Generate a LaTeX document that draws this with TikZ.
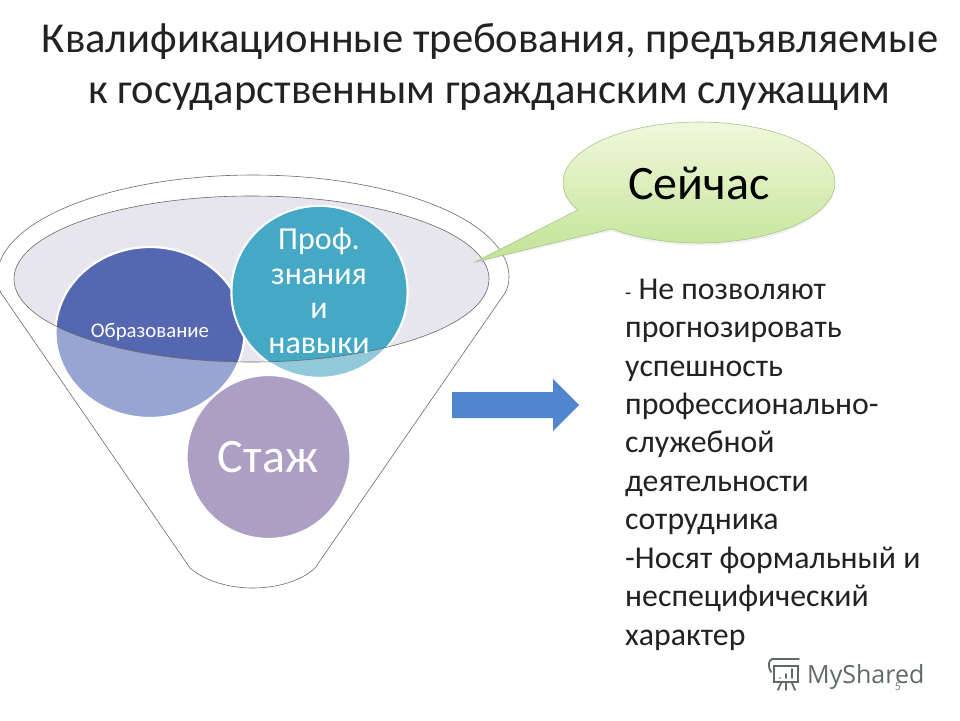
\documentclass[tikz,border=0pt]{standalone}
\usepackage{fontspec}
\setmainfont{Carlito}
\newfontfamily\logofont{Open Sans}
\definecolor{inkc}{HTML}{222222}
\definecolor{ringc}{HTML}{6A6A6A}
\definecolor{ellc}{HTML}{E7E5ED}
\definecolor{blueL}{HTML}{97A5D2}
\definecolor{blueD}{HTML}{5567B0}
\definecolor{tealL}{HTML}{92C9DA}
\definecolor{tealD}{HTML}{45A8C4}
\definecolor{plum}{HTML}{AD9FC3}
\definecolor{arrowc}{HTML}{4F86CF}
\definecolor{logoc}{HTML}{5F6A66}
\definecolor{calloutT}{HTML}{F0F8DC}
\definecolor{calloutB}{HTML}{C2E394}
\definecolor{calloutE}{HTML}{A9C68A}
\tikzset{
  titletext/.style={text=inkc,font=\fontsize{42.6}{42.6}\selectfont,inner sep=0pt,anchor=base},
  bodytext/.style={text=inkc,font=\fontsize{31.8}{31.8}\selectfont,inner sep=0pt,anchor=base west},
  ontext/.style={text=white,inner sep=0pt,anchor=center},
  thinline/.style={draw=ringc,line width=0.6pt},
}
\begin{document}
\begin{tikzpicture}[x=1pt,y=-1pt]
\useasboundingbox (0,0) rectangle (960,720);
\clip (0,0) rectangle (960,720);
\fill[white] (0,0) rectangle (960,720);
% title
\node[titletext] (t1) at (490,52) {Квалификационные требования, предъявляемые};
\node[titletext] (t2) at (489,103) {к государственным гражданским служащим};
% funnel
\draw[thinline,fill=white] plot[domain=180:360,samples=80] ({253+256*cos(\x)},{277+102*sin(\x)})
  .. controls (509,283) and (508,287) .. (505,293) -- (315,568)
  .. controls (300,582) and (275,588) .. (253,588)
  .. controls (231,588) and (206,582) .. (190,568) -- (1,293)
  .. controls (-2,287) and (-3,283) .. cycle;
\fill[ellc] (251.5,279) ellipse [x radius=237.5,y radius=83];
% education circle
\fill[blueL] (150,332.5) ellipse [x radius=94,y radius=85];
\begin{scope}
  \clip (251.5,279) ellipse [x radius=237.5,y radius=83];
  \fill[blueD] (150,332.5) ellipse [x radius=94,y radius=85];
\end{scope}
\draw[white,line width=2.2pt] (150,332.5) ellipse [x radius=94.5,y radius=85.5];
% experience circle
\draw[white,line width=2.2pt,fill=plum] (268.5,457) circle (82);
% knowledge circle
\draw[draw=white,line width=2.4pt,fill=tealL] (319.5,292) ellipse [x radius=88,y radius=86];
\begin{scope}
  \clip (251.5,279) ellipse [x radius=237.5,y radius=83];
  \fill[tealD] (319.5,292) ellipse [x radius=87,y radius=85];
\end{scope}
\draw[thinline] (251.5,279) ellipse [x radius=237.5,y radius=83];
% circle labels
\node[ontext,font=\fontsize{20.8}{20.8}\selectfont] (edu) at (150,332) {Образование};
\node[ontext,font=\fontsize{32}{32}\selectfont] (p1) at (319,241) {Проф.};
\node[ontext,font=\fontsize{32}{32}\selectfont] (p2) at (319,277) {знания};
\node[ontext,font=\fontsize{32}{32}\selectfont] (p3) at (319,311) {и};
\node[ontext,font=\fontsize{32}{32}\selectfont] (p4) at (319,346) {навыки};
\node[ontext,font=\fontsize{48}{48}\selectfont] (st) at (268,457) {Стаж};
% callout
\fill[black,opacity=0.06] plot[domain=153:490,samples=120] ({699+136*cos(\x)},{185+60.5*sin(\x)}) -- (477,263) -- cycle;
\draw[draw=calloutE,line width=0.6pt,top color=calloutT,bottom color=calloutB]
  plot[domain=153:490,samples=120] ({699+136*cos(\x)},{182.5+60.5*sin(\x)}) -- (475,262) -- cycle;
\node[inner sep=0pt,text=black,font=\fontsize{48}{48}\selectfont] (now) at (699,183) {Сейчас};
% arrow
\fill[arrowc] (452,392) -- (553,392) -- (553,379) -- (579,405) -- (553,431) -- (553,418) -- (452,418) -- cycle;
% body text
\node[bodytext] (b1) at (625,299) {{\fontsize{20}{20}\selectfont -} Не позволяют};
\node[bodytext] (b2) at (625,337) {прогнозировать};
\node[bodytext] (b3) at (625,376) {успешность};
\node[bodytext] (b4) at (625,414) {профессионально-};
\node[bodytext] (b5) at (625,452) {служебной};
\node[bodytext] (b6) at (625,491) {деятельности};
\node[bodytext] (b7) at (625,529) {сотрудника};
\node[bodytext] (b8) at (625,568) {-Носят формальный и};
\node[bodytext] (b9) at (625,606) {неспецифический};
\node[bodytext] (b10) at (625,645) {характер};
% watermark
\begin{scope}[draw=logoc,line width=1.8pt,line cap=round]
  \draw (772,659) -- (799,659);
  \draw (772,659) .. controls (768,660) and (768,668) .. (771,672);
  \draw (774,666) rectangle (798,682);
  \draw (781,683) -- (778,690);
  \draw (786,683) -- (786,690);
  \draw (792,683) -- (795,690);
  \draw (780,678) -- (780,678);
  \draw (786,678) -- (786,674);
  \draw (792,678) -- (792,669);
\end{scope}
\node[inner sep=0pt,anchor=base west,text=logoc,font=\logofont\fontsize{25}{25}\selectfont] (logo) at (807,683) {MyShared};
\node[inner sep=0pt,text=gray,font=\fontsize{12}{12}\selectfont] (pg) at (898,687) {5};
\end{tikzpicture}
\end{document}
